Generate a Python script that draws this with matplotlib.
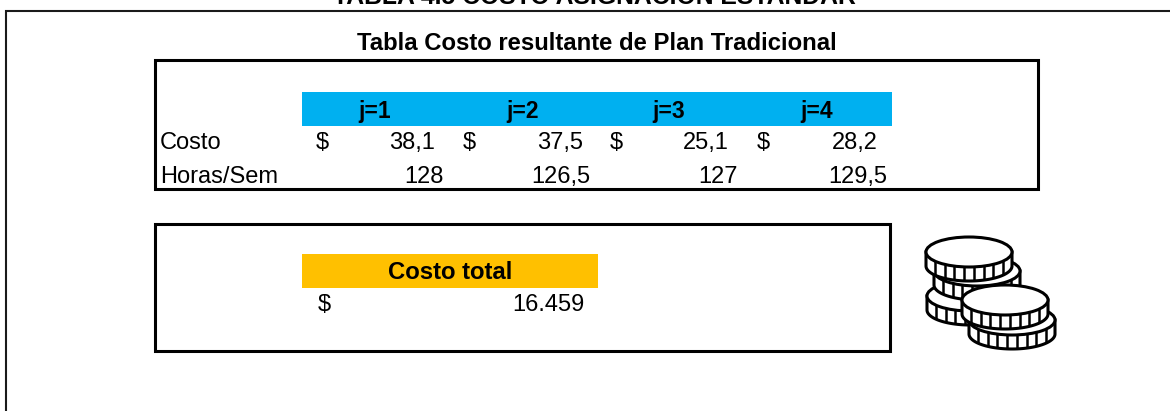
import numpy as np
import matplotlib
matplotlib.use("Agg")
import matplotlib.pyplot as plt
from matplotlib.patches import Rectangle, Ellipse, Polygon

plt.rcParams["font.family"] = ["Liberation Sans", "DejaVu Sans"]

headers = ["j=1", "j=2", "j=3", "j=4"]
costs = ["38,1", "37,5", "25,1", "28,2"]
hours = ["128", "126,5", "127", "129,5"]
row_labels = ["Costo", "Horas/Sem"]
total_label = "Costo total"
total_value = "16.459"
main_title = "TABLA 4.5 COSTO ASIGNACION ESTANDAR"
table_title = "Tabla Costo resultante de Plan Tradicional"


def coin(ax, cx, cy, rx=43, ry=15, h=14, z=5):
    t = np.linspace(0, np.pi, 60)
    xs = cx + rx * np.cos(t)
    ys = cy + ry * np.sin(t) + h
    body = [(cx - rx, cy)] + list(zip(xs[::-1], ys[::-1])) + [(cx + rx, cy)]
    ax.add_patch(Polygon(body, closed=True, fc="white", ec="black", lw=2.2, zorder=z))
    for tx in np.linspace(cx - rx + 9, cx + rx - 9, 8):
        y0 = cy + ry * np.sqrt(1 - ((tx - cx) / rx) ** 2)
        ax.plot([tx, tx], [y0, y0 + h], color="black", lw=1.8, zorder=z, solid_capstyle="butt")
    ax.add_patch(Ellipse((cx, cy), 2 * rx, 2 * ry, fc="white", ec="black", lw=2.2, zorder=z))


fig = plt.figure(figsize=(11.7, 4.11), dpi=100)
ax = fig.add_axes([0, 0, 1, 1])
ax.set_xlim(0, 1170)
ax.set_ylim(411, 0)
ax.axis("off")

# outer frame, runs off the picture on three sides
ax.plot([6, 6, 1170], [411, 11.5, 11.5], color="#1a1a1a", lw=1.5, solid_joinstyle="miter")

ax.text(594, 4, main_title, ha="center", va="baseline", fontsize=17.8, fontweight="bold")
ax.text(596.5, 43, table_title, ha="center", va="center", fontsize=17.2, fontweight="bold")

# boxes
ax.add_patch(Rectangle((155, 60.5), 883, 129, fc="none", ec="black", lw=2.2))
ax.add_patch(Rectangle((155, 223.5), 735, 127, fc="none", ec="black", lw=2.2))

# header bands
ax.add_patch(Rectangle((302, 92), 590, 34, fc="#00B0F0", ec="none"))
ax.add_patch(Rectangle((302, 254), 296, 34, fc="#FFC000", ec="none"))

head_x = [375, 523, 669, 817]
dollar_x = [322, 469, 616, 763]
cost_x = [435, 583, 729, 878]
hour_x = [444, 590, 738, 887]

for x, s in zip(head_x, headers):
    ax.text(x, 111, s, ha="center", va="center", fontsize=16.5, fontweight="bold")
for x0, x1, s in zip(dollar_x, cost_x, costs):
    ax.text(x0, 143, "$", ha="center", va="center", fontsize=17)
    ax.text(x1, 143, s, ha="right", va="center", fontsize=17)
for x, s in zip(hour_x, hours):
    ax.text(x, 177, s, ha="right", va="center", fontsize=17)
ax.text(160, 143, row_labels[0], ha="left", va="center", fontsize=17)
ax.text(160, 177, row_labels[1], ha="left", va="center", fontsize=17)

ax.text(450, 272, total_label, ha="center", va="center", fontsize=17.2, fontweight="bold")
ax.text(324, 305, "$", ha="center", va="center", fontsize=17)
ax.text(584, 305, total_value, ha="right", va="center", fontsize=17)

# coin icon, back to front
coin(ax, 970, 296, z=5)
coin(ax, 977, 271, z=6)
coin(ax, 969, 252, z=7)
coin(ax, 1012, 320, z=8)
coin(ax, 1005, 300, z=9)

fig.savefig("out.png", dpi=100)
